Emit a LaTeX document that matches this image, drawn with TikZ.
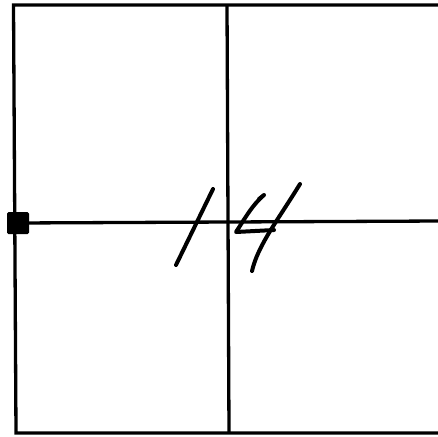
\documentclass[tikz,border=0pt]{standalone}
\usepackage{tikz}
\usetikzlibrary{positioning}

\begin{document}
\begin{tikzpicture}[
  x=1pt,y=-1pt,
  frame/.style={line width=3.3pt},
  pen/.style={line width=4pt,line cap=round,line join=round},
  pinbox/.style={fill=black,rounded corners=1.5pt,minimum size=22pt,inner sep=0pt}]
\useasboundingbox (0,0) rectangle (438,436);
% outer frame and cross lines
\coordinate (tl) at (13.5,5);
\coordinate (tr) at (440,5);
\coordinate (bl) at (16,433);
\coordinate (br) at (440,433);
\coordinate (vt) at (227,5);
\coordinate (vb) at (229,433);
\coordinate (hr) at (440,221);
\draw[frame] (tr)--(tl)--(bl)--(br);
\draw[frame] (vt)--(vb);
\node[pinbox] (pin) at (18,223) {};
\draw[frame] (pin.center)--(hr);
% handwritten number
\draw[pen] (213,189)--(176,265);
\draw[pen] (264,195)--(259,199) (264,195) .. controls (252,205) and (244,220) .. (236,232)--(274,230);
\draw[pen] (300,184) .. controls (278,220) and (258,245) .. (252,271);
\end{tikzpicture}
\end{document}
